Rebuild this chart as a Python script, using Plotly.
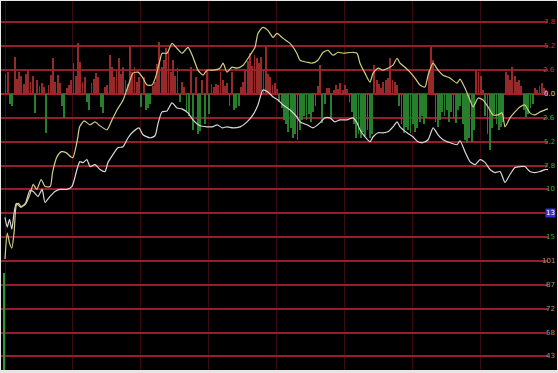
import plotly.graph_objects as go

# ---- data (minute index 0..240, values in chart units; gridline every 24 units) ----
yellow_min = [0,1,2,3,4,5,6,7,9,11,12.5,14,16,17.7,20,21,23,25,27,29,30,32,33,35,37.6,39.8,42,45.1,47.3,49.5,52.2,54.4,56.6,58.8,61,62.8,65,66.7,68.5,69.4,71.6,73.8,76,78.2,80.9,83.1,85.3,87.5,89.3,91.9,95,96.4,98.1,100.3,102.5,105.2,108.3,110.5,111.8,114,116.2,118.5,120.2,122.9,126,129,130.4,133.5,135.7,138.3,140.6,142.8,145,147.2,149.4,153.8,155.6,156.9,159.1,161.3,162.7,164.9,167.1,169.3,171.5,173.3,174.6,176.8,179,181.2,183.4,185.6,187,189.2,191.4,193.6,196.7,199.8,201.1,203.3,205.5,206.9,209.1,211.3,213.5,215.7,217.9,219.7,221,223.2,225.4,227.6,229.8,232,234.2,236.5,238.7,240]
yellow_val = [-166,-140,-150,-155,-140,-112,-110,-113,-111,-101,-91,-96,-86,-93,-93,-79,-63,-58,-59,-63,-64,-46,-33,-27,-31,-28,-32,-36,-26,-16,-6,8,21,22,16,9,9,18,34,41,41,51,46,41,47,37,24,19,24,24,26,31,22,27,26,29,39,47,61,67,64,57,61,56,51,41,34,32,31,34,42,44,39,42,41,42,41,31,21,12,21,26,24,26,29,36,31,27,22,16,9,7,19,31,24,19,16,11,15,6,-6,-13,-4,-6,-13,-21,-21,-19,-33,-24,-18,-13,-11,-19,-21,-18,-16,-15]

white_min = [0,1,2,3,4,5,7,9,11,12.5,14.6,16.4,17.7,19.9,22.1,24.3,27.4,29.6,31.8,33.1,34.5,36.2,37.6,39.8,42,44.2,45.5,47.7,49.9,52.2,54.4,56.6,59.2,61,64.1,66.3,67.6,69.4,71.6,73.8,76,78.2,80.9,83.1,86.2,89.3,91.6,93.8,96,98.1,100.8,103.9,107,109.6,111.8,114,116.2,118.5,120.7,122.9,126,129,130.4,133.5,136.1,139.2,141.4,143.6,145.8,148,151.1,153.8,155.6,156.9,159.1,161.3,162.7,164.9,167.1,169.3,171.5,173.3,174.6,177.7,180.3,182.5,184.7,187,189.2,191.4,193.6,196.7,199.8,201.1,203.3,205.5,207.8,210,212.2,214.4,216.6,218.8,221,223.2,225.4,227.6,229.8,232,234.2,236.5,238.7,240]
white_val = [-124,-134,-126,-136,-120,-110,-114,-110,-97,-98,-103,-96,-109,-103,-98,-96,-96,-93,-76,-68,-69,-66,-73,-71,-76,-78,-69,-61,-54,-53,-44,-38,-34,-41,-44,-42,-30,-18,-17,-9,-14,-15,-19,-26,-32,-33,-33,-31,-34,-33,-34,-33,-28,-21,-11,4,2,-3,-6,-11,-16,-23,-28,-31,-34,-29,-24,-24,-28,-26,-26,-24,-29,-36,-43,-48,-43,-39,-39,-38,-33,-28,-33,-39,-43,-48,-49,-46,-34,-41,-46,-49,-51,-47,-58,-68,-71,-66,-69,-76,-79,-78,-89,-81,-74,-73,-73,-78,-79,-78,-76,-76]

bar_val = [20,22,-10,-12,37,15,22,18,10,20,24,12,18,-19,14,8,11,7,-39,9,
           19,36,12,19,11,-12,-24,6,9,14,31,18,51,32,12,17,-8,-16,11,15,
           21,17,-13,-19,7,9,39,27,17,24,36,20,27,14,10,49,22,27,12,17,
           -13,17,-16,-14,-10,8,12,30,52,27,34,46,44,22,34,18,26,-8,12,7,
           -17,-22,27,-36,17,-40,-37,14,-30,24,-20,10,7,10,9,22,14,8,11,-12,
           22,-16,-14,-12,7,12,25,33,41,28,39,36,31,37,24,47,20,17,9,11,
           5,-8,-14,-26,-30,-38,-34,-44,-40,-46,-36,-26,-22,-26,-20,-28,-18,-12,8,29,
           -29,-10,6,6,-24,4,9,5,11,4,9,5,-8,-18,-30,-44,-40,-44,-38,-42,
           -36,-44,-40,29,14,10,6,12,14,16,36,14,12,9,-12,-30,-39,-33,-36,-39,
           -30,-38,-34,-28,-22,-30,-24,24,47,34,-28,-33,-26,-18,-22,-16,-28,-18,-24,-29,
           -16,-12,-30,-46,-49,-44,-48,-36,24,22,18,4,-22,-40,-56,-34,-20,-30,-36,-33,
           -28,22,19,14,27,18,12,14,8,-16,-23,-20,-14,-10,6,4,8,11,6,4,3]
bar_min = list(range(len(bar_val)))

volume_min = [0]
volume_val = [101]

right_labels = ["7.8", "5.2", "2.6", "0.0", "2.6", "5.2", "7.8", "10",
                "13", "15", "101", "87", "72", "58", "43"]
label_vals = [72, 48, 24, 0, -24, -48, -72, -96, -120, -144, -168, -192, -216, -240, -264]

Y_LO, Y_HI = -280.7, 94.6

fig = go.Figure()

fig.add_trace(go.Bar(
    x=volume_min, y=volume_val, base=[Y_LO], width=0.6,
    marker=dict(color="#2f9a3a", line=dict(width=0)), hoverinfo="skip"))

fig.add_trace(go.Bar(
    x=bar_min, y=bar_val, width=0.38,
    marker=dict(color=["#962a2a" if v > 0 else "#277f2e" for v in bar_val],
                line=dict(width=0)),
    hoverinfo="skip"))

fig.add_trace(go.Scatter(
    x=white_min, y=white_val, mode="lines",
    line=dict(color="#d8d8d8", width=1.2, shape="spline", smoothing=0.6)))
fig.add_trace(go.Scatter(
    x=yellow_min, y=yellow_val, mode="lines",
    line=dict(color="#d2cf86", width=1.2, shape="spline", smoothing=0.6)))

fig.add_vline(x=120, line=dict(color="#5a1420", width=1.2), layer="below")

label_colors = []
for i in range(len(right_labels)):
    if i < 3:
        label_colors.append("#c83838")
    elif i == 3:
        label_colors.append("#d0d0d0")
    elif i < 10:
        label_colors.append("#3fae3f")
    else:
        label_colors.append("#a89878")

for i, (t, v) in enumerate(zip(right_labels, label_vals)):
    fig.add_annotation(
        x=0.997, xref="paper", y=v, yref="y", text=t, showarrow=False,
        xanchor="right", yanchor="middle",
        font=dict(size=7, color="#ffffff" if i == 8 else label_colors[i],
                  family="DejaVu Sans"),
        bgcolor="#3a32c8" if i == 8 else None, borderpad=0)

# thin light frame around the screenshot
fig.add_shape(type="rect", xref="paper", yref="paper", x0=0, x1=1, y0=0, y1=1,
              line=dict(color="#e6e6e6", width=2), layer="above")
fig.add_shape(type="rect", xref="paper", yref="paper", x0=0, x1=1, y0=0, y1=0.008,
              line=dict(width=0), fillcolor="#e6e6e6", layer="above")

fig.update_layout(
    width=558, height=373,
    margin=dict(l=0, r=0, t=0, b=0),
    paper_bgcolor="#000000", plot_bgcolor="#000000",
    showlegend=False, bargap=0,
    xaxis=dict(domain=[0, 548 / 558], range=[-2.21, 240], tick0=0, dtick=30,
               showgrid=True, gridcolor="#3a0a12", gridwidth=1,
               zeroline=False, showticklabels=False, showline=False, ticks=""),
    yaxis=dict(range=[Y_LO, Y_HI], tick0=0, dtick=24,
               showgrid=True, gridcolor="#9a1a2e", gridwidth=1.6,
               zeroline=True, zerolinecolor="#a41e30", zerolinewidth=1.8,
               showticklabels=False, showline=False, ticks=""),
)

fig.write_html("out.html")
